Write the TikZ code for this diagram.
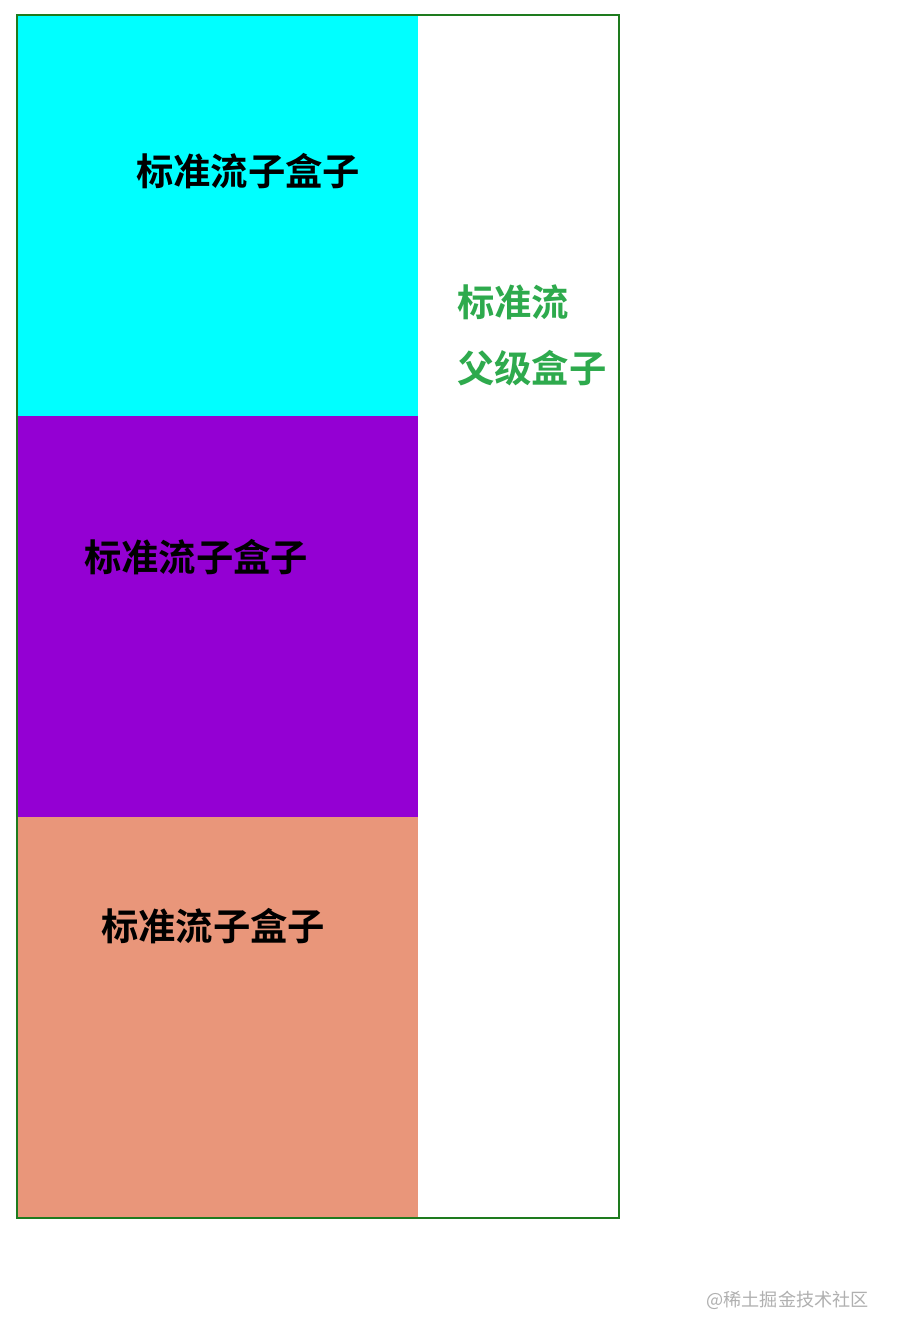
\documentclass[tikz,border=0pt]{standalone}
\usepackage{fontspec}
\newfontfamily\cjk{Noto Sans CJK SC}[BoldFont={Noto Sans CJK SC Bold}]
\definecolor{boxcyan}{HTML}{00FFFF}
\definecolor{boxpurple}{HTML}{9400D3}
\definecolor{boxsalmon}{HTML}{E9967A}
\definecolor{parentgreen}{HTML}{1E7B1E}
\definecolor{labelgreen}{HTML}{2EAA4D}
\definecolor{markgray}{HTML}{B0B0B0}
\begin{document}
\begin{tikzpicture}[x=0.75pt,y=-0.75pt,
  childlabel/.style={font=\cjk\bfseries\fontsize{28}{33}\selectfont,text=black,inner sep=0pt},
  parentlabel/.style={font=\cjk\bfseries\fontsize{28}{33}\selectfont,text=labelgreen,inner sep=0pt,anchor=west},
  marklabel/.style={font=\cjk\fontsize{13.6}{16}\selectfont,text=markgray,inner sep=0pt,anchor=east}]
\useasboundingbox[fill=white] (0,0) rectangle (896,1338);
\fill[boxcyan] (17,15) rectangle (418,416);
\fill[boxpurple] (17,416) rectangle (418,817);
\fill[boxsalmon] (17,817) rectangle (418,1217);
\draw[parentgreen,line width=1.5pt] (17,15) rectangle (619,1218);
\node[childlabel] (c1) at (248,171) {标准流子盒子};
\node[childlabel] (c2) at (196,557) {标准流子盒子};
\node[childlabel] (c3) at (213,926) {标准流子盒子};
\node[parentlabel] (p1) at (457,302) {标准流};
\node[parentlabel] (p2) at (457,368) {父级盒子};
\node[marklabel] (wm) at (869,1300) {@稀土掘金技术社区};
\end{tikzpicture}
\end{document}
